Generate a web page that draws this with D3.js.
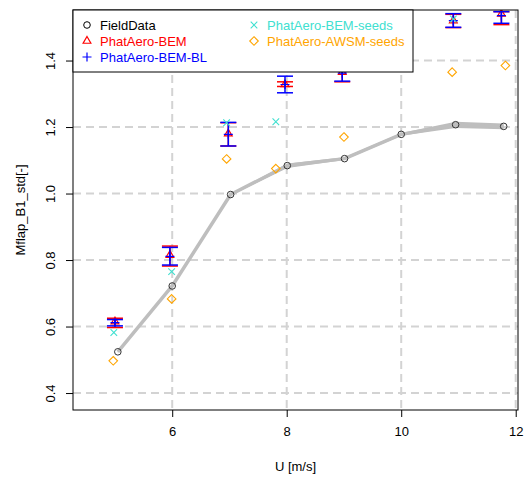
<!DOCTYPE html>
<html>
<head>
<meta charset="utf-8">
<script src="https://cdnjs.cloudflare.com/ajax/libs/d3/7.8.5/d3.min.js"></script>
<style>
  html, body { margin: 0; padding: 0; background: #fff; }
  svg { display: block; font-family: "Liberation Sans", Arial, sans-serif; }
</style>
</head>
<body>
<svg id="chart" width="524" height="477"></svg>
<script>
// ---- data ----
const fieldX = [5.05, 6.0, 7.02, 8.01, 9.01, 10.0, 10.95, 11.79];
const fieldY = [0.524, 0.722, 0.997, 1.084, 1.105, 1.178, 1.207, 1.202];
const fieldLo = [0.521, 0.719, 0.994, 1.077, 1.101, 1.174, 1.197, 1.193];
const fieldHi = [0.527, 0.725, 1.000, 1.090, 1.109, 1.182, 1.216, 1.211];

const bemX  = [5.0, 5.96, 6.98, 7.97, 8.97, 10.91, 11.75];
const bemY  = [0.615, 0.815, 1.180, 1.328, 1.365, 1.520, 1.540];
const bemLo = [0.597, 0.782, 1.143, 1.322, 1.336, 1.499, 1.508];
const bemHi = [0.625, 0.842, 1.213, 1.336, 1.392, 1.539, 1.547];

const blX  = [5.0, 5.96, 6.98, 7.97, 8.97, 10.91, 11.75];
const blY  = [0.612, 0.811, 1.178, 1.328, 1.362, 1.520, 1.535];
const blLo = [0.602, 0.785, 1.143, 1.303, 1.338, 1.500, 1.512];
const blHi = [0.621, 0.838, 1.214, 1.353, 1.390, 1.541, 1.547];

const seedsX = [4.98, 5.99, 6.95, 7.81, 10.91];
const seedsY = [0.582, 0.765, 1.213, 1.216, 1.525];

const awsmX = [4.97, 5.99, 6.95, 7.81, 9.0, 10.89, 11.82];
const awsmY = [0.497, 0.683, 1.104, 1.075, 1.170, 1.365, 1.385];

const xTicks = [6, 8, 10, 12];
const yTicks = [0.4, 0.6, 0.8, 1.0, 1.2, 1.4];

const legendLabels = ["FieldData", "PhatAero-BEM", "PhatAero-BEM-BL", "PhatAero-BEM-seeds", "PhatAero-AWSM-seeds"];
const legendColors = ["#000000", "#FF0000", "#0000FF", "#40E0D0", "#FFA500"];
const legendShapes = ["circle", "triangle", "plus", "cross", "diamond"];

// ---- layout ----
const L = 73, R = 518, T = 10, B = 410;
const svg = d3.select("#chart");
const x = d3.scaleLinear().domain([4.267, 12.04]).range([L, R]);
const y = d3.scaleLinear().domain([0.349, 1.552]).range([B, T]);

svg.append("defs").append("clipPath").attr("id", "plotclip")
  .append("rect").attr("x", L).attr("y", T).attr("width", R - L).attr("height", B - T);

// grid
const grid = svg.append("g").attr("stroke", "#D3D3D3").attr("stroke-width", 2).attr("stroke-dasharray", "8,5");
grid.selectAll("line.v").data(xTicks).join("line")
  .attr("x1", d => x(d)).attr("x2", d => x(d)).attr("y1", T).attr("y2", B);
grid.selectAll("line.h").data(yTicks).join("line")
  .attr("y1", d => y(d)).attr("y2", d => y(d)).attr("x1", L).attr("x2", R);

const plot = svg.append("g").attr("clip-path", "url(#plotclip)");

// field band + line
const fieldData = fieldX.map((v, i) => ({x: v, y: fieldY[i], lo: fieldLo[i], hi: fieldHi[i]}));
plot.append("path").datum(fieldData)
  .attr("d", d3.area().x(d => x(d.x)).y0(d => y(d.lo)).y1(d => y(d.hi)))
  .attr("fill", "#BEBEBE").attr("stroke", "none");
plot.append("path").datum(fieldData)
  .attr("d", d3.line().x(d => x(d.x)).y(d => y(d.y)))
  .attr("fill", "none").attr("stroke", "#BEBEBE").attr("stroke-width", 3.5).attr("stroke-linejoin", "round");

// symbol helper
function drawSymbol(g, shape, cx, cy, color) {
  if (shape === "circle") {
    g.append("circle").attr("cx", cx).attr("cy", cy).attr("r", 3.3)
      .attr("fill", "none").attr("stroke", color).attr("stroke-width", 1);
  } else if (shape === "triangle") {
    g.append("path").attr("transform", `translate(${cx},${cy})`)
      .attr("d", d3.symbol().type(d3.symbolTriangle).size(26)())
      .attr("fill", "none").attr("stroke", color).attr("stroke-width", 1.2);
  } else if (shape === "plus") {
    g.append("path").attr("d", `M${cx - 4.5},${cy}H${cx + 4.5}M${cx},${cy - 4.5}V${cy + 4.5}`)
      .attr("stroke", color).attr("stroke-width", 1.2);
  } else if (shape === "cross") {
    const s = 3.3;
    g.append("path").attr("d", `M${cx - s},${cy - s}L${cx + s},${cy + s}M${cx - s},${cy + s}L${cx + s},${cy - s}`)
      .attr("stroke", color).attr("stroke-width", 1.1);
  } else if (shape === "diamond") {
    const s = 4.3;
    g.append("path").attr("d", `M${cx},${cy - s}L${cx + s},${cy}L${cx},${cy + s}L${cx - s},${cy}Z`)
      .attr("fill", "none").attr("stroke", color).attr("stroke-width", 1.1);
  }
}

// field circles
fieldX.forEach((v, i) => drawSymbol(plot, "circle", x(v), y(fieldY[i]), "#333333"));

// error bars
function errorBars(xs, lo, hi, color) {
  const g = plot.append("g").attr("stroke", color).attr("stroke-width", 1.5);
  xs.forEach((v, i) => {
    const cx = x(v);
    g.append("line").attr("x1", cx).attr("x2", cx).attr("y1", y(lo[i])).attr("y2", y(hi[i]));
    g.append("line").attr("x1", cx - 8).attr("x2", cx + 8).attr("y1", y(lo[i])).attr("y2", y(lo[i]));
    g.append("line").attr("x1", cx - 8).attr("x2", cx + 8).attr("y1", y(hi[i])).attr("y2", y(hi[i]));
  });
}
errorBars(bemX, bemLo, bemHi, "#FF0000");
bemX.forEach((v, i) => drawSymbol(plot, "triangle", x(v), y(bemY[i]), "#FF0000"));
errorBars(blX, blLo, blHi, "#0000FF");
blX.forEach((v, i) => drawSymbol(plot, "plus", x(v), y(blY[i]), "#0000FF"));
seedsX.forEach((v, i) => drawSymbol(plot, "cross", x(v), y(seedsY[i]), "#40E0D0"));
awsmX.forEach((v, i) => drawSymbol(plot, "diamond", x(v), y(awsmY[i]), "#FFA500"));

// axes
const xAxis = svg.append("g").attr("transform", `translate(0,${B})`)
  .call(d3.axisBottom(x).tickValues(xTicks).tickSize(7).tickPadding(10).tickFormat(d3.format("d")));
const yAxis = svg.append("g").attr("transform", `translate(${L},0)`)
  .call(d3.axisLeft(y).tickValues(yTicks).tickSize(7).tickFormat(d3.format(".1f")));
[xAxis, yAxis].forEach(a => {
  a.select(".domain").remove();
  a.selectAll(".tick line").attr("stroke", "#000");
  a.selectAll("text").attr("font-size", 13).attr("fill", "#000")
    .attr("font-family", "'Liberation Sans', Arial, sans-serif");
});
yAxis.selectAll(".tick text")
  .attr("x", null).attr("dy", null)
  .attr("text-anchor", "middle")
  .attr("transform", "translate(-23,0) rotate(-90)")
  .attr("dominant-baseline", "central")
  .attr("y", 0);

// box
svg.append("rect").attr("x", L).attr("y", T).attr("width", R - L).attr("height", B - T)
  .attr("fill", "none").attr("stroke", "#000").attr("stroke-width", 1);

// axis titles
svg.append("text").attr("x", (L + R) / 2).attr("y", 466).attr("text-anchor", "middle")
  .attr("dominant-baseline", "central").attr("font-size", 13).text("U [m/s]");
svg.append("text").attr("transform", `translate(20,${(T + B) / 2}) rotate(-90)`)
  .attr("text-anchor", "middle").attr("dominant-baseline", "central")
  .attr("font-size", 13).text("Mflap_B1_std[-]");

// legend
const lg = svg.append("g");
lg.append("rect").attr("x", L).attr("y", T).attr("width", 340).attr("height", 62)
  .attr("fill", "#fff").attr("stroke", "#000").attr("stroke-width", 1);
const rowsY = [25, 41, 57];
legendLabels.forEach((lab, i) => {
  const col = i < 3 ? 0 : 1;
  const row = i < 3 ? i : i - 3;
  const sx = col === 0 ? 87 : 254;
  const tx = col === 0 ? 100 : 267;
  const cy = rowsY[row];
  drawSymbol(lg, legendShapes[i], sx, cy, legendColors[i] === "#000000" ? "#000" : legendColors[i]);
  lg.append("text").attr("x", tx).attr("y", cy).attr("dominant-baseline", "central")
    .attr("font-size", 13).attr("fill", legendColors[i]).text(lab);
});
</script>
</body>
</html>
